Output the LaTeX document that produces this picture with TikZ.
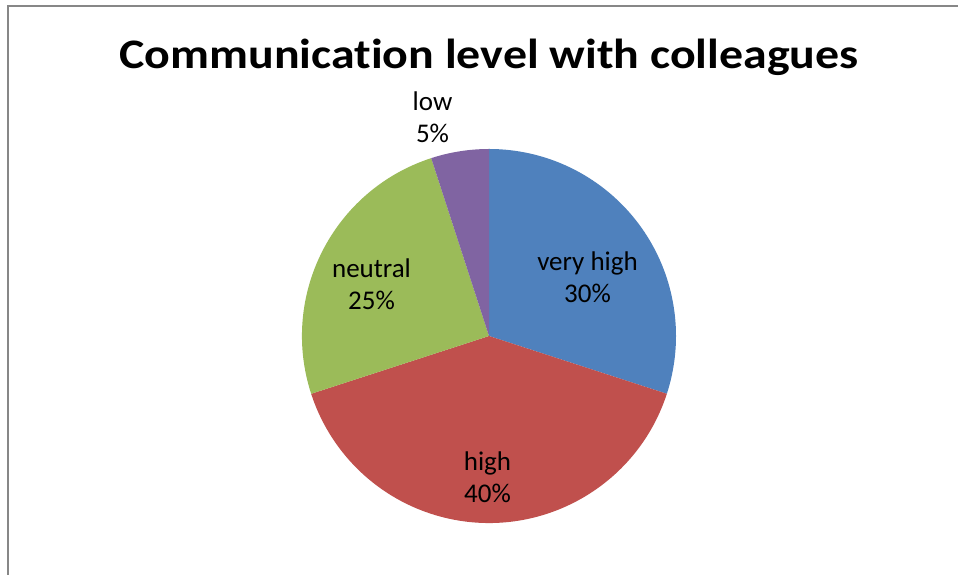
\documentclass[tikz,border=0pt]{standalone}
\usepackage{fontspec}
\setmainfont{Carlito}[Ligatures=CommonOff]
\definecolor{cblue}{HTML}{4F81BD}
\definecolor{cred}{HTML}{C0504D}
\definecolor{cgreen}{HTML}{9BBB59}
\definecolor{cpurple}{HTML}{8064A2}
\definecolor{frame}{HTML}{878787}
\tikzset{
  lbl/.style={align=center, anchor=base, inner sep=0pt, font=\fontsize{27}{32.5}\selectfont},
  ttl/.style={anchor=base, inner sep=0pt, font=\fontsize{42}{50}\selectfont\bfseries},
}
\begin{document}
\begin{tikzpicture}[x=1pt,y=1pt]
\useasboundingbox (0,0) rectangle (958,575);
\fill[white] (0,0) rectangle (958,575);
\coordinate (c) at (489,239);
\def\R{187}
\fill[cblue] (c) -- ++(90:\R) arc[start angle=90, end angle=-18, radius=\R] -- cycle;
\fill[cred] (c) -- ++(-18:\R) arc[start angle=-18, end angle=-162, radius=\R] -- cycle;
\fill[cgreen] (c) -- ++(-162:\R) arc[start angle=-162, end angle=-252, radius=\R] -- cycle;
\fill[cpurple] (c) -- ++(-252:\R) arc[start angle=-252, end angle=-270, radius=\R] -- cycle;
\coordinate (fb) at (8,0);
\coordinate (fc) at (8,569);
\coordinate (fr) at (958,569);
\draw[frame, line width=2pt] (fb) -- (fc) -- (fr);
\node[ttl] (title) at (489,506.5) {\scalebox{1.14}[1]{Communication level with colleagues}};
\node[lbl] (low) at (432.5,432) {low\\5\%};
\node[lbl] (vh) at (587.5,272) {very high\\30\%};
\node[lbl] (neu) at (371.5,265) {neutral\\25\%};
\node[lbl] (hi) at (487.5,72) {high\\40\%};
\end{tikzpicture}
\end{document}
